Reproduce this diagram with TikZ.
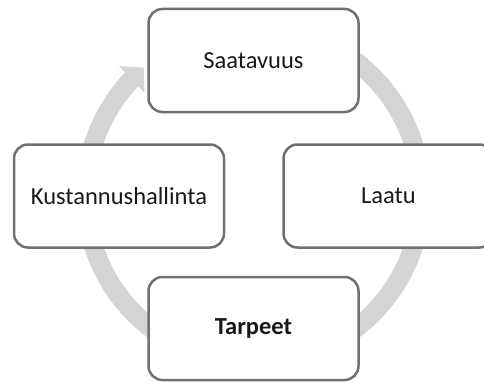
\documentclass[tikz,border=0pt]{standalone}
\usepackage{fontspec}
\setmainfont{Carlito}
\usetikzlibrary{arrows.meta,bending,calc}
\definecolor{boxline}{RGB}{112,112,112}
\definecolor{ringgray}{RGB}{212,212,212}
\definecolor{textdark}{RGB}{25,25,25}
\tikzset{
  phase/.style={draw=boxline, line width=2.5pt, rounded corners=14pt, fill=white,
    minimum width=210pt, minimum height=103pt, inner sep=0pt, text=textdark,
    font=\fontsize{24.5}{28}\selectfont},
  ring/.style={draw=ringgray, line width=19pt, -{Triangle[length=17pt,width=36pt,flex]}}
}
\begin{document}
\begin{tikzpicture}[x=1pt,y=1pt]
  \useasboundingbox (0,0) rectangle (484,381);
  % circular arrow behind the boxes
  \coordinate (cyc) at (253.5,186);
  \draw[ring] ($(cyc)+(70:168)$) arc[start angle=70, end angle=-229.3, radius=168];
  % the four boxes
  \node[phase] (saatavuus) at (253.5,320.5) {Saatavuus};
  \node[phase] (laatu) at (388.5,185) {Laatu};
  \node[phase, font=\fontsize{24.5}{28}\selectfont\bfseries] (tarpeet) at (253.5,52.5) {Tarpeet};
  \node[phase] (kustannus) at (119,185) {Kustannushallinta};
\end{tikzpicture}
\end{document}
